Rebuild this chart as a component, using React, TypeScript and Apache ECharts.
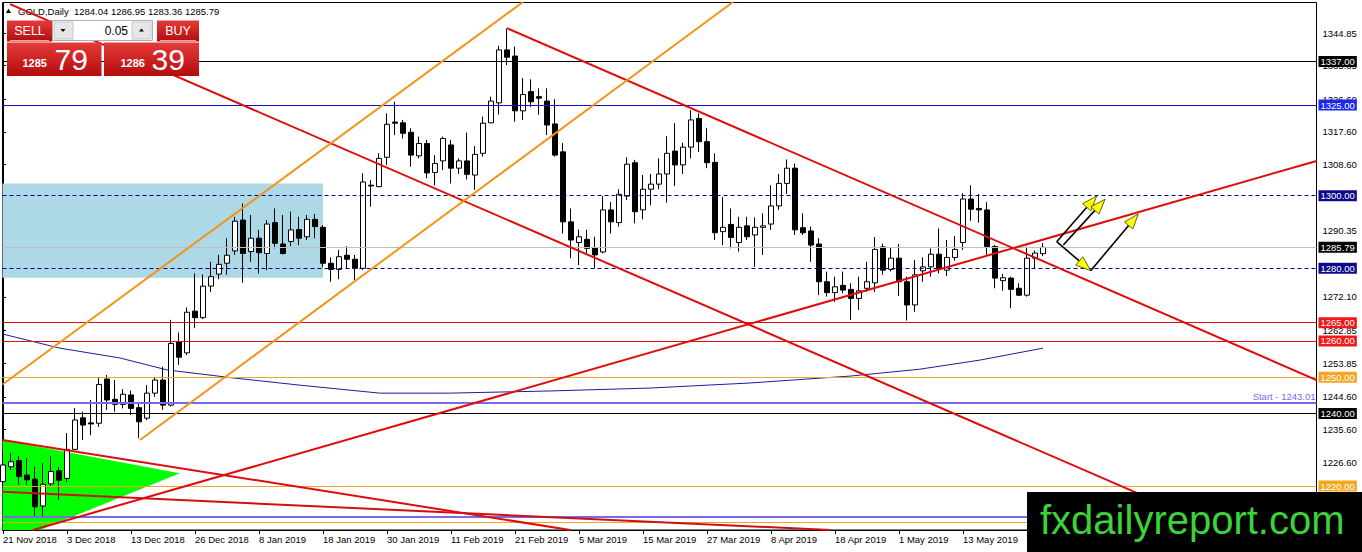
import React, { useEffect, useRef } from "react";
import * as echarts from "echarts";

const FONT = 'Tahoma, "Liberation Sans", Arial, sans-serif';
const PFONT = '"Liberation Sans", Arial, sans-serif';

// ---- Daily OHLC (bar index = position in the arrays) ----
const opens = [
  1221.2, 1225.3, 1227.0, 1223.0, 1221.9, 1214.5, 1220.6, 1224.2, 1222.1, 1230.1,
  1238.8, 1237.4, 1237.3, 1249.5, 1243.9, 1242.5, 1245.1, 1241.6, 1238.7, 1245.6,
  1249.2, 1242.3, 1259.8, 1256.7, 1268.2, 1266.4, 1275.1, 1278.4, 1281.4, 1284.8,
  1293.3, 1284.6, 1288.3, 1284.1, 1292.6, 1286.7, 1287.4, 1290.7, 1288.7, 1293.5,
  1291.3, 1281.4, 1279.7, 1283.6, 1282.5, 1280.0, 1302.9, 1302.5, 1310.6, 1320.3,
  1320.1, 1317.5, 1311.0, 1314.4, 1306.4, 1309.6, 1314.0, 1307.6, 1309.6, 1305.7,
  1311.7, 1320.1, 1325.6, 1340.2, 1338.5, 1323.4, 1328.7, 1327.3, 1326.1, 1319.8,
  1312.1, 1292.8, 1287.1, 1288.0, 1285.7, 1284.5, 1296.1, 1292.6, 1299.9, 1309.1,
  1296.1, 1301.8, 1303.2, 1306.0, 1312.3, 1308.5, 1313.4, 1321.3, 1314.9, 1309.2,
  1290.1, 1292.1, 1287.1, 1291.7, 1289.2, 1291.3, 1292.2, 1297.2, 1303.4, 1307.6,
  1291.2, 1290.3, 1286.7, 1276.3, 1273.3, 1275.3, 1274.2, 1271.7, 1274.5, 1276.0,
  1285.9, 1279.7, 1282.8, 1276.3, 1269.9, 1279.3, 1280.4, 1283.9, 1279.5, 1283.0,
  1287.1, 1299.1, 1296.5, 1296.1, 1286.0, 1276.6, 1277.3, 1274.5, 1272.6, 1282.8,
  1284.04,
];
const highs = [
  1229.9, 1229.1, 1228.3, 1227.7, 1225.3, 1226.3, 1228.3, 1225.2, 1234.6, 1241.5,
  1240.5, 1243.7, 1249.8, 1250.6, 1249.2, 1246.7, 1246.3, 1243.2, 1247.8, 1250.1,
  1252.9, 1265.8, 1262.3, 1269.2, 1278.6, 1278.3, 1281.8, 1283.7, 1288.3, 1294.2,
  1297.9, 1294.7, 1290.6, 1293.3, 1296.5, 1294.7, 1295.6, 1294.2, 1294.7, 1295.0,
  1291.9, 1283.0, 1285.1, 1286.1, 1283.7, 1306.2, 1304.3, 1311.7, 1322.7, 1325.9,
  1320.9, 1318.6, 1316.3, 1315.4, 1311.2, 1316.3, 1315.4, 1310.3, 1317.4, 1313.7,
  1321.8, 1327.3, 1341.3, 1346.1, 1341.1, 1332.4, 1332.1, 1329.6, 1329.6, 1326.6,
  1314.5, 1296.5, 1290.7, 1290.6, 1288.7, 1299.9, 1298.3, 1301.8, 1310.6, 1309.9,
  1305.7, 1306.0, 1310.3, 1316.4, 1320.0, 1314.6, 1323.6, 1322.7, 1318.6, 1311.7,
  1299.7, 1296.5, 1294.2, 1294.2, 1294.0, 1295.2, 1302.9, 1306.0, 1310.0, 1308.9,
  1295.2, 1291.5, 1288.3, 1279.1, 1277.7, 1279.1, 1275.9, 1277.7, 1281.8, 1288.6,
  1286.8, 1285.8, 1286.7, 1277.7, 1282.3, 1283.0, 1285.5, 1291.0, 1287.8, 1288.9,
  1300.7, 1302.9, 1300.5, 1298.2, 1286.4, 1278.4, 1277.7, 1275.9, 1286.0, 1284.9,
  1286.95,
];
const lows = [
  1219.5, 1224.4, 1220.3, 1220.3, 1211.5, 1211.1, 1220.0, 1216.2, 1221.1, 1229.9,
  1232.7, 1234.0, 1236.3, 1241.0, 1240.5, 1241.4, 1239.6, 1233.2, 1238.2, 1244.6,
  1241.0, 1241.9, 1253.4, 1256.1, 1263.5, 1266.0, 1273.5, 1277.0, 1278.2, 1283.7,
  1276.0, 1281.8, 1278.6, 1279.5, 1285.5, 1283.8, 1286.1, 1286.4, 1287.8, 1288.3,
  1280.3, 1276.3, 1277.0, 1280.0, 1276.8, 1279.5, 1297.0, 1302.4, 1308.5, 1316.7,
  1315.8, 1308.0, 1310.3, 1304.8, 1302.9, 1307.1, 1303.4, 1306.0, 1304.5, 1301.6,
  1310.8, 1320.0, 1322.4, 1336.0, 1320.4, 1320.9, 1324.4, 1322.3, 1316.7, 1310.8,
  1289.6, 1282.8, 1280.9, 1284.1, 1280.0, 1284.1, 1289.6, 1291.5, 1298.8, 1292.4,
  1293.5, 1297.4, 1301.8, 1298.1, 1302.7, 1306.0, 1310.3, 1312.1, 1307.6, 1287.8,
  1286.4, 1285.5, 1284.6, 1287.8, 1280.4, 1283.7, 1290.6, 1296.1, 1300.5, 1289.2,
  1289.2, 1281.8, 1272.6, 1272.2, 1270.8, 1273.1, 1265.8, 1268.5, 1273.5, 1273.5,
  1278.2, 1279.1, 1272.4, 1265.6, 1268.0, 1276.3, 1277.7, 1278.6, 1277.9, 1282.1,
  1285.1, 1293.1, 1292.6, 1283.7, 1274.5, 1273.8, 1269.0, 1272.4, 1272.2, 1280.0,
  1283.36,
];
const closes = [
  1225.8, 1226.7, 1222.6, 1221.7, 1214.3, 1220.5, 1224.0, 1221.6, 1230.1, 1238.2,
  1236.8, 1237.1, 1248.0, 1243.7, 1242.5, 1245.3, 1241.4, 1237.7, 1245.6, 1249.2,
  1242.3, 1259.3, 1255.5, 1267.9, 1266.4, 1275.1, 1277.7, 1281.1, 1283.6, 1293.0,
  1284.1, 1288.3, 1284.3, 1292.2, 1286.9, 1284.1, 1290.6, 1288.3, 1293.5, 1291.5,
  1281.4, 1279.7, 1283.2, 1282.5, 1280.0, 1303.8, 1302.7, 1310.3, 1319.7, 1320.0,
  1317.2, 1311.2, 1314.4, 1306.3, 1308.9, 1315.8, 1307.6, 1309.6, 1305.9, 1311.4,
  1320.0, 1326.1, 1340.2, 1338.2, 1323.4, 1327.9, 1325.9, 1326.9, 1319.5, 1311.2,
  1292.8, 1287.8, 1288.7, 1285.5, 1283.7, 1296.1, 1292.8, 1300.4, 1308.7, 1295.6,
  1301.8, 1303.2, 1306.0, 1311.7, 1308.5, 1313.4, 1320.9, 1314.9, 1309.1, 1289.8,
  1291.3, 1288.5, 1291.3, 1288.7, 1291.3, 1291.7, 1297.2, 1303.4, 1307.6, 1290.6,
  1289.8, 1286.4, 1276.3, 1273.3, 1274.9, 1274.0, 1271.7, 1273.8, 1276.3, 1285.2,
  1279.5, 1282.8, 1276.3, 1269.9, 1278.2, 1280.4, 1283.9, 1280.0, 1283.0, 1285.2,
  1299.1, 1296.3, 1296.1, 1286.0, 1277.3, 1277.4, 1274.2, 1272.6, 1282.8, 1284.2,
  1285.79,
];

// ---- Axes ----
const xLabelBars = [0, 8, 16, 24, 32, 40, 48, 56, 64, 72, 80, 88, 96, 104, 112, 120];
const xLabels = [
  "21 Nov 2018", "3 Dec 2018", "13 Dec 2018", "26 Dec 2018", "8 Jan 2019", "18 Jan 2019",
  "30 Jan 2019", "11 Feb 2019", "21 Feb 2019", "5 Mar 2019", "15 Mar 2019", "27 Mar 2019",
  "8 Apr 2019", "18 Apr 2019", "1 May 2019", "13 May 2019",
];
const yTickValues = [
  1344.85, 1335.85, 1326.6, 1317.6, 1308.6, 1290.35, 1272.1, 1262.85, 1253.85,
  1244.6, 1235.6, 1226.6,
];
const X_MIN = -0.0625;
const X_MAX = 164.1875;
const Y_MIN = 1207.88;
const Y_MAX = 1353.26;

// ---- Moving average (read at sample bars) ----
const maBars = [-0.06, 7.1, 14.6, 20.5, 28.75, 37.1, 47.1, 55.9, 68.4, 80.9, 93.4, 105.9, 114.6, 122.1, 130];
const maValues = [1261.9, 1258.0, 1255.3, 1252.0, 1249.8, 1247.8, 1245.6, 1245.6, 1246.2, 1247.0, 1248.4, 1250.3, 1252.2, 1254.7, 1258.0];

// ---- Horizontal price levels ----
const levelPrices = [1337.0, 1325.0, 1300.0, 1285.79, 1280.0, 1265.0, 1260.0, 1250.0, 1240.0, 1220.0];
const startLevel = 1243.01;
const lowPurpleLevel = 1211.47;
const lowOrangeLevel = 1210.1;

// ---- Trend lines, [bar, price] end points ----
const redFallLong = [[0.875, 1352.8], [150, 1210.2]];
const redChannelTop = [[63, 1346.2], [164.2, 1249.2]];
const redRiseLong = [[3.75, 1207.88], [164.2, 1309.6]];
const redLowA = [[-0.06, 1232.7], [70.9, 1207.88]];
const redLowB = [[-0.06, 1218.4], [103.4, 1207.88]];
const orangeUpper = [[-0.06, 1247.98], [65, 1353.4]];
const orangeLower = [[17.125, 1232.7], [91.25, 1353.4]];

// ---- Shapes ----
const triangleBars = [-0.06, 22.1, 4.6, -0.06];
const trianglePrices = [1232.7, 1223.5, 1207.88, 1207.88];
const boxBars = [X_MIN, 40];
const boxPrices = [1303.4, 1277.4];
// arrows: [barFrom, priceFrom, barTo, priceTo]
const arrowSegments = [
  [131.71, 1287.34, 136.71, 1299.93],
  [132.54, 1286.43, 137.75, 1299.02],
  [131.71, 1287.34, 135.96, 1279.35],
  [135.96, 1279.35, 141.91, 1294.97],
];

// ---- Header / trade panel ----
const symbolName = "GOLD,Daily";
const headerOHLC = [1284.04, 1286.95, 1283.36, 1285.79];
const bidPrice = "1285.79";
const askPrice = "1286.39";
const lotSize = "0.05";

const LEVEL_STYLES = [
  { line: "#000000", type: "solid", bg: "#000000" },
  { line: "#1010c8", type: "solid", bg: "#1a28f0" },
  { line: "#000080", type: [4, 3], bg: "#0b0b8a" },
  { line: "#c0c0c0", type: "solid", bg: "#000000" },
  { line: "#000080", type: [4, 3], bg: "#0b0b8a" },
  { line: "#e01010", type: "solid", bg: "#f01818" },
  { line: "#e01010", type: "solid", bg: "#f01818" },
  { line: "#f0a428", type: "solid", bg: "#f5a623" },
  { line: "#000000", type: "solid", bg: "#000000" },
  { line: "#f0a428", type: "solid", bg: "#f5a623" },
];

function trendSeries(points: number[][], color: string, z = 5) {
  return {
    type: "line",
    data: points,
    showSymbol: false,
    symbol: "none",
    silent: true,
    clip: true,
    z,
    lineStyle: { color, width: 2 },
  };
}

function redGrad() {
  return new echarts.graphic.LinearGradient(0, 0, 0, 1, [
    { offset: 0, color: "#e63a3a" },
    { offset: 1, color: "#b20c0c" },
  ]);
}

function buildOption() {
  const markLineData: any[] = levelPrices.map((p, i) => {
    const s = LEVEL_STYLES[i];
    return {
      yAxis: p,
      lineStyle: { color: s.line, width: 1, type: s.type },
      label: {
        show: true,
        position: "end",
        distance: 2,
        formatter: p.toFixed(2),
        color: "#ffffff",
        backgroundColor: s.bg,
        padding: [1, 2, 0, 2],
        fontSize: 9.5,
        fontFamily: FONT,
      },
    };
  });
  markLineData.push({
    yAxis: startLevel,
    lineStyle: { color: "#7b68ee", width: 2, type: "solid" },
    label: {
      show: true,
      position: "insideEndTop",
      distance: 1,
      formatter: "Start - " + startLevel.toFixed(2),
      color: "#7b68ee",
      fontSize: 9.5,
      fontFamily: FONT,
    },
  });
  markLineData.push({
    yAxis: lowPurpleLevel,
    lineStyle: { color: "#7b68ee", width: 2, type: "solid" },
    label: { show: false },
  });
  markLineData.push({
    yAxis: lowOrangeLevel,
    lineStyle: { color: "#f0a428", width: 1, type: "solid" },
    label: { show: false },
  });

  const panelZ = 100;
  const graphic: any[] = [
    // header
    {
      type: "polygon",
      z: 1,
      shape: { points: [[6, 13], [11, 13], [8.5, 8.5]] },
      style: { fill: "#000" },
    },
    {
      type: "text",
      z: 1,
      x: 18,
      y: 11,
      style: {
        text: symbolName + "  " + headerOHLC.map((v) => v.toFixed(2)).join(" "),
        fill: "#000",
        fontSize: 9.5,
        fontFamily: FONT,
        verticalAlign: "middle",
      },
    },
    // SELL button
    { type: "rect", z: panelZ, shape: { x: 7, y: 20.5, width: 45, height: 21 }, style: { fill: redGrad() } },
    { type: "line", z: panelZ, shape: { x1: 10, y1: 40.5, x2: 49, y2: 40.5 }, style: { stroke: "#f2a0a0", lineWidth: 1 } },
    {
      type: "text", z: panelZ + 1, x: 29.5, y: 31,
      style: { text: "SELL", fill: "#fff", fontSize: 12.5, fontFamily: PFONT, align: "center", verticalAlign: "middle" },
    },
    // lot spinner
    { type: "rect", z: panelZ, shape: { x: 52.5, y: 20.5, width: 100, height: 20 }, style: { fill: "#fff", stroke: "#b0b0b0", lineWidth: 1 } },
    { type: "rect", z: panelZ, shape: { x: 54, y: 22, width: 19, height: 17 }, style: { fill: "#e6e6e6", stroke: "#c8c8c8", lineWidth: 1 } },
    { type: "rect", z: panelZ, shape: { x: 132, y: 22, width: 19, height: 17 }, style: { fill: "#e6e6e6", stroke: "#c8c8c8", lineWidth: 1 } },
    { type: "polygon", z: panelZ + 1, shape: { points: [[60.5, 29], [65.5, 29], [63, 32]] }, style: { fill: "#000" } },
    { type: "polygon", z: panelZ + 1, shape: { points: [[139, 31.5], [144, 31.5], [141.5, 28.5]] }, style: { fill: "#000" } },
    {
      type: "text", z: panelZ + 1, x: 128, y: 30.5,
      style: { text: lotSize, fill: "#000", fontSize: 12, fontFamily: PFONT, align: "right", verticalAlign: "middle" },
    },
    // BUY button
    { type: "rect", z: panelZ, shape: { x: 157, y: 20.5, width: 42, height: 21 }, style: { fill: redGrad() } },
    { type: "line", z: panelZ, shape: { x1: 160, y1: 40.5, x2: 196, y2: 40.5 }, style: { stroke: "#f2a0a0", lineWidth: 1 } },
    {
      type: "text", z: panelZ + 1, x: 178, y: 31,
      style: { text: "BUY", fill: "#fff", fontSize: 12.5, fontFamily: PFONT, align: "center", verticalAlign: "middle" },
    },
    // price boxes
    { type: "rect", z: panelZ, shape: { x: 7, y: 42.5, width: 94.5, height: 33.5 }, style: { fill: redGrad() } },
    { type: "rect", z: panelZ, shape: { x: 104, y: 42.5, width: 95, height: 33.5 }, style: { fill: redGrad() } },
    {
      type: "text", z: panelZ + 1, x: 22.5, y: 63,
      style: { text: bidPrice.slice(0, 4), fill: "#fff", fontSize: 11, fontWeight: "bold", fontFamily: PFONT, verticalAlign: "middle" },
    },
    {
      type: "text", z: panelZ + 1, x: 54.5, y: 59.5,
      style: { text: bidPrice.slice(5, 7), fill: "#fff", fontSize: 30, fontFamily: PFONT, verticalAlign: "middle" },
    },
    {
      type: "text", z: panelZ + 1, x: 120.5, y: 63,
      style: { text: askPrice.slice(0, 4), fill: "#fff", fontSize: 11, fontWeight: "bold", fontFamily: PFONT, verticalAlign: "middle" },
    },
    {
      type: "text", z: panelZ + 1, x: 151.5, y: 59.5,
      style: { text: askPrice.slice(5, 7), fill: "#fff", fontSize: 30, fontFamily: PFONT, verticalAlign: "middle" },
    },
    // watermark logo
    { type: "rect", z: panelZ, shape: { x: 1027, y: 492, width: 335, height: 60 }, style: { fill: "#000" } },
    {
      type: "text", z: panelZ + 1, x: 1040, y: 520,
      style: { text: "fxdailyreport.com", fill: "#3ad43a", fontSize: 40, fontFamily: PFONT, verticalAlign: "middle" },
    },
  ];

  return {
    animation: false,
    backgroundColor: "#ffffff",
    grid: {
      left: 2.5,
      right: 45.5,
      top: 2.5,
      bottom: 22,
      show: true,
      borderColor: "#000",
      borderWidth: 1,
      backgroundColor: "transparent",
    },
    xAxis: {
      type: "value",
      min: X_MIN,
      max: X_MAX,
      splitLine: { show: false },
      axisLine: { show: true, lineStyle: { color: "#000", width: 1 } },
      axisTick: { show: true, length: 4, lineStyle: { color: "#000" }, customValues: xLabelBars },
      axisLabel: {
        customValues: xLabelBars,
        formatter: (v: number) => {
          const k = xLabelBars.indexOf(Math.round(v));
          return k >= 0 ? xLabels[k] : "";
        },
        align: "left",
        margin: 4,
        color: "#000",
        fontSize: 9.5,
        fontFamily: FONT,
      },
    },
    yAxis: {
      type: "value",
      position: "right",
      min: Y_MIN,
      max: Y_MAX,
      splitLine: { show: false },
      axisLine: { show: true, lineStyle: { color: "#000", width: 1 } },
      axisTick: { show: true, length: 3, lineStyle: { color: "#000" }, customValues: yTickValues },
      axisLabel: {
        customValues: yTickValues,
        formatter: (v: number) => v.toFixed(2),
        margin: 6,
        color: "#000",
        fontSize: 9.5,
        fontFamily: FONT,
      },
    },
    graphic,
    series: [
      // light-blue zone
      {
        type: "line",
        data: [],
        z: 1,
        silent: true,
        markArea: {
          silent: true,
          itemStyle: { color: "#add8e6" },
          data: [[{ xAxis: boxBars[0], yAxis: boxPrices[0] }, { xAxis: boxBars[1], yAxis: boxPrices[1] }]],
        },
      },
      // green triangle
      {
        type: "custom",
        z: 1,
        silent: true,
        clip: true,
        data: [[triangleBars[0], trianglePrices[0]]],
        renderItem: (_p: any, api: any) => {
          const pts = triangleBars.map((b, k) => api.coord([b, trianglePrices[k]]));
          return { type: "polygon", shape: { points: pts }, style: { fill: "#00ff00" } };
        },
      },
      // horizontal levels
      {
        type: "line",
        data: [],
        z: 3,
        silent: true,
        markLine: {
          silent: true,
          symbol: ["none", "none"],
          animation: false,
          data: markLineData,
        },
      },
      // moving average
      {
        type: "line",
        data: maBars.map((b, i) => [b, maValues[i]]),
        showSymbol: false,
        symbol: "none",
        silent: true,
        z: 3,
        lineStyle: { color: "#1c1c9c", width: 1 },
      },
      // candles
      {
        type: "candlestick",
        z: 4,
        barWidth: 5,
        silent: true,
        data: opens.map((o, i) => [i, o, closes[i], lows[i], highs[i]]),
        itemStyle: {
          color: "#ffffff",
          color0: "#000000",
          borderColor: "#000000",
          borderColor0: "#000000",
          borderColorDoji: "#000000",
          borderWidth: 1,
        },
      },
      trendSeries(redFallLong, "#e00c0c"),
      trendSeries(redChannelTop, "#e00c0c"),
      trendSeries(redRiseLong, "#e00c0c"),
      trendSeries(redLowA, "#e00c0c"),
      trendSeries(redLowB, "#d01010"),
      trendSeries(orangeUpper, "#f39318"),
      trendSeries(orangeLower, "#f39318"),
      // arrows
      {
        type: "custom",
        z: 6,
        silent: true,
        clip: false,
        data: arrowSegments,
        encode: { x: [0, 2], y: [1, 3] },
        renderItem: (_p: any, api: any) => {
          const p1 = api.coord([api.value(0), api.value(1)]);
          const p2 = api.coord([api.value(2), api.value(3)]);
          const dx = p2[0] - p1[0];
          const dy = p2[1] - p1[1];
          const len = Math.hypot(dx, dy) || 1;
          const ux = dx / len;
          const uy = dy / len;
          const L = 15;
          const W = 5.5;
          const bx = p2[0] - ux * L;
          const by = p2[1] - uy * L;
          return {
            type: "group",
            children: [
              { type: "line", shape: { x1: p1[0], y1: p1[1], x2: bx, y2: by }, style: { stroke: "#000", lineWidth: 1.6 } },
              {
                type: "polygon",
                shape: { points: [[p2[0], p2[1]], [bx - uy * W, by + ux * W], [bx + uy * W, by - ux * W]] },
                style: { fill: "#ffff00", stroke: "#3a3a00", lineWidth: 0.8 },
              },
            ],
          };
        },
      },
    ],
  };
}

export default function App() {
  const ref = useRef<HTMLDivElement>(null);
  useEffect(() => {
    if (!ref.current) return;
    const chart = echarts.init(ref.current, null, { renderer: "svg" });
    chart.setOption(buildOption() as any);
    return () => chart.dispose();
  }, []);
  return (
    <div style={{ position: "fixed", left: 0, top: 0, width: 1362, height: 552, background: "#fff" }}>
      <div ref={ref} style={{ width: 1362, height: 552 }} />
    </div>
  );
}
